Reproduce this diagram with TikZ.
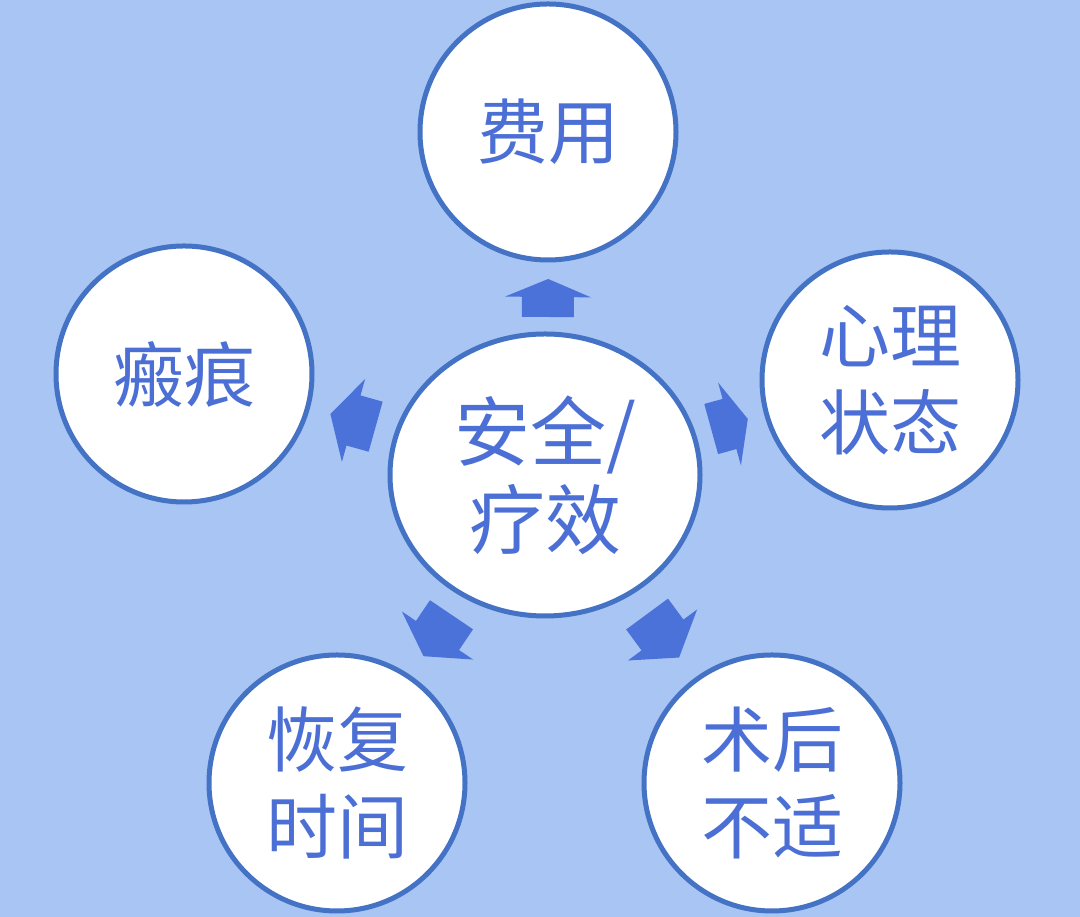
\documentclass[tikz,border=0pt]{standalone}
\usepackage{fontspec}
\newfontfamily\cjk{Noto Sans CJK SC}
\usetikzlibrary{calc,shapes.geometric}
\definecolor{bgblue}{HTML}{A8C5F4}
\definecolor{ringblue}{HTML}{4472C4}
\definecolor{arrowblue}{HTML}{4A72D8}
\definecolor{textblue}{HTML}{4B6FD5}
\tikzset{
  bubble/.style={circle, draw=ringblue, line width=5pt, fill=white,
    minimum size=256pt, inner sep=0pt, text=textblue,
    font=\cjk\fontsize{71}{87}\selectfont, align=center},
  hub/.style={ellipse, draw=ringblue, line width=5pt, fill=white,
    minimum width=310pt, minimum height=282pt, inner sep=0pt, text=textblue,
    font=\cjk\fontsize{76}{88}\selectfont, align=center},
  blockfill/.style={fill=arrowblue}
}
\newcommand\blockarrow[5]{%
  \pgfmathanglebetweenpoints{\pgfpointanchor{#1}{center}}{\pgfpointanchor{#2}{center}}%
  \let\barang\pgfmathresult
  \begin{scope}[shift={#3}, rotate=\barang]
    \fill[blockfill] (-#5,26) -- (0,26) -- (0,43) -- (#4,0) -- (0,-43) -- (0,-26) -- (-#5,-26) -- cycle;
  \end{scope}}
\begin{document}
\begin{tikzpicture}[x=1pt,y=1pt]
  \fill[bgblue] (0,0) rectangle (1080,917);
  \useasboundingbox (0,0) rectangle (1080,917);
  \node[hub] (hub) at (545,442) {安全/\\疗效};
  \node[bubble] (cost) at (548,785) {费用};
  \node[bubble] (scar) at (184,543) {瘢痕};
  \node[bubble] (mind) at (890,537) {心理\\状态};
  \node[bubble] (recov) at (337,134) {恢复\\时间};
  \node[bubble] (pain) at (772,134) {术后\\不适};
  \blockarrow{hub}{cost}{(548,620)}{18}{20}
  \blockarrow{hub}{scar}{(353.5,496.5)}{24}{23}
  \blockarrow{hub}{mind}{(729.5,493)}{19}{19}
  \blockarrow{hub}{recov}{(437.5,281.5)}{25}{25}
  \blockarrow{hub}{pain}{(662.5,282)}{28}{26}
\end{tikzpicture}
\end{document}
